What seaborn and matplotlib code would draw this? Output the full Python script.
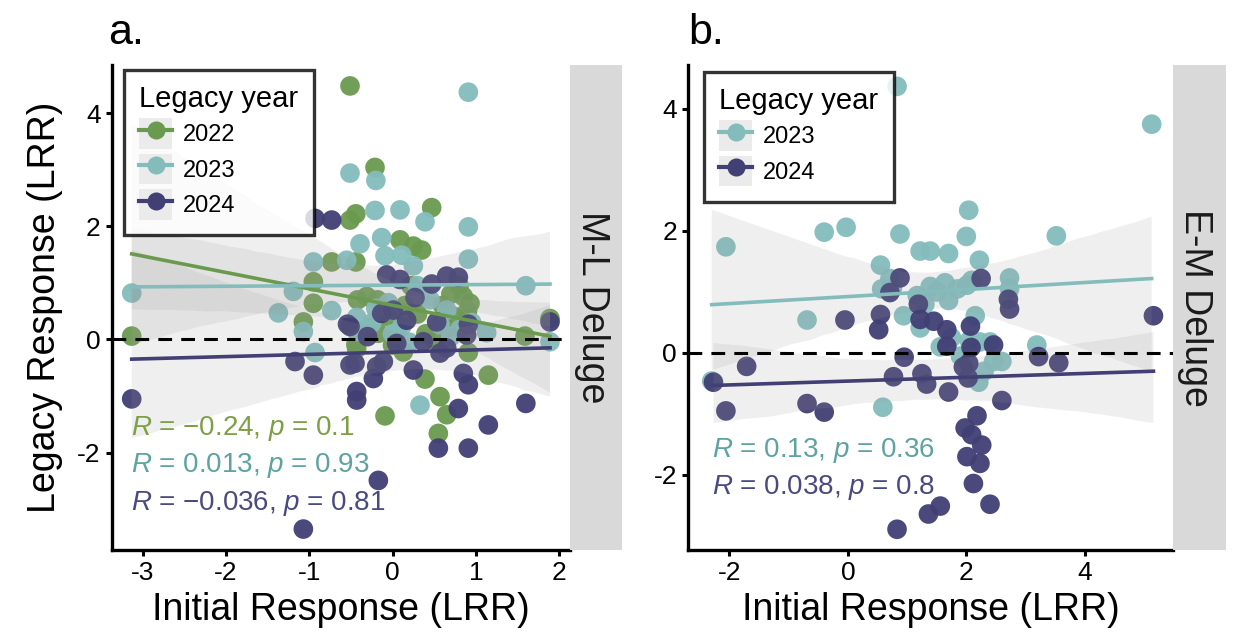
import numpy as np
import pandas as pd
import matplotlib
matplotlib.use("Agg")
import matplotlib.pyplot as plt
import seaborn as sns
from matplotlib.lines import Line2D
from matplotlib.patches import Patch
from matplotlib.legend_handler import HandlerTuple
from matplotlib.collections import PolyCollection

# ---------------- data ----------------
# Panel a (M-L Deluge)
a22_x = [-0.51, -0.21, -0.51, -0.44, 0.47, 0.09, 0.25, 0.35, -0.73, -0.44,
         -0.95, -0.95, -1.07, -3.13, 1.89, 1.59, 1.15, 0.39, 0.57, 0.65,
         -0.09, 0.55, 0.85, 0.93, 0.80, -0.31, -0.42, -0.18, -0.17, 0.13,
         -0.43, -0.30, 0.91, 0.22, 0.51, -0.44, 0.70, 0.05, 0.60, 0.30,
         -0.05, 0.75, 0.40, 0.90, 0.15, 0.00, 0.65]
a22_y = [4.48, 3.04, 2.11, 2.22, 2.33, 1.76, 1.65, 1.58, 1.37, 1.37,
         1.02, 0.64, 0.31, 0.06, 0.37, 0.06, -0.63, -0.70, -1.01, -1.33,
         -1.35, -1.66, 0.76, 0.64, 0.95, 0.76, 0.70, 0.70, 0.11, -0.22,
         -0.16, 0.20, -0.23, 0.95, -0.01, -0.09, 0.80, 0.15, 0.60, 0.45,
         0.40, 0.40, 0.10, 0.50, 0.60, -0.10, 0.20]

a23_x = [0.91, -0.51, -0.20, -0.21, 0.09, 0.39, 0.91, -0.39, -0.13, -0.09,
         0.11, 0.25, 0.91, -0.95, -0.55, 1.60, -3.13, -1.37, -0.73, -1.07,
         -0.93, -0.43, -0.43, -0.25, 0.11, 0.45, 0.65, 0.57, 0.81, 1.13,
         1.89, 0.33, -1.19, 0.30, -0.05, 0.70, 0.20, -0.20, 0.00, 0.95]
a23_y = [4.37, 2.94, 2.81, 2.28, 2.29, 2.08, 1.99, 1.69, 1.80, 1.48,
         1.49, 1.30, 1.42, 1.37, 1.40, 0.95, 0.82, 0.47, 0.51, 0.14,
         -0.23, 0.39, 0.14, 0.29, 0.23, 0.70, 0.52, 0.26, 0.18, 0.12,
         -0.04, -1.16, 0.85, 0.95, 0.65, 0.05, -0.05, 0.55, 0.10, 0.30]

a24_x = [-0.93, -0.73, -0.07, 0.09, 0.65, 0.79, 0.47, -1.17, -0.95, -0.51,
         -0.45, -0.11, -0.19, -0.23, -0.43, -0.43, 0.25, 0.85, 0.91, 0.79,
         1.15, 1.60, 0.55, 0.91, 1.89, -0.13, -0.51, 0.53, 0.89, 0.05,
         0.37, 0.17, 0.01, 0.57, -3.13, -0.17, -1.07, 0.27, 0.91, 0.65,
         -0.30, -0.54]
a24_y = [2.14, 2.11, 1.14, 1.06, 1.12, 1.10, 0.98, -0.39, -0.63, -0.45,
         -0.42, -0.39, -0.48, -0.69, -0.92, -1.07, -0.54, -0.60, -0.80, -1.22,
         -1.51, -1.13, -1.92, -1.92, 0.31, 0.46, 0.23, 0.31, 0.08, -0.07,
         -0.04, 0.34, 0.52, -0.24, -1.05, -2.49, -3.35, 0.74, 0.27, -0.15,
         0.05, 0.27]

# Panel b (E-M Deluge)
b23_x = [0.83, 5.13, -2.06, -0.40, -0.03, 0.88, 2.04, 2.00, 3.52, 1.22,
         1.39, 1.70, 2.22, 0.55, 0.71, 0.57, 1.39, 1.64, 2.01, 2.09,
         1.17, 1.70, -0.69, 0.94, 1.22, 2.15, 0.59, 1.56, 2.23, 2.40,
         2.21, 2.46, 2.60, 3.19, 2.73, 2.73, 1.50, 1.85, 2.05, 1.30,
         0.75, -2.30, 1.90, 2.30, 1.75]
b23_y = [4.37, 3.75, 1.74, 1.98, 2.06, 1.95, 2.34, 1.91, 1.92, 1.67,
         1.67, 1.63, 1.52, 1.44, 1.22, 1.05, 1.09, 1.15, 1.11, 1.19,
         0.94, 0.86, 0.54, 0.61, 0.41, 0.61, -0.89, 0.10, 0.18, 0.18,
         -0.48, -0.14, -0.14, 0.13, 1.23, 1.05, 1.00, 1.05, 0.20, 0.80,
         1.05, -0.46, -0.05, -0.30, 0.25]

b24_x = [-2.27, -1.71, -2.06, -0.69, -0.40, 0.95, 0.77, 1.25, 1.33, 1.70,
         2.18, 1.98, 2.09, 2.26, 2.01, 2.23, 2.12, 2.40, 1.56, 1.36,
         0.83, 1.95, 2.04, 2.60, 2.73, 2.71, 3.22, 3.56, 5.16, 1.67,
         1.67, 2.07, 2.46, 0.55, 0.52, -0.05, 1.22, 1.45, 1.19, 0.88,
         0.71, 2.25, 2.03, 2.08]
b24_y = [-0.48, -0.22, -0.95, -0.83, -0.97, -0.07, -0.39, -0.34, -0.51, -0.64,
         -1.03, -1.23, -1.34, -1.51, -1.70, -1.81, -2.14, -2.48, -2.51, -2.64,
         -2.89, -0.23, -0.17, -0.78, 0.72, 0.88, -0.06, -0.16, 0.61, 0.38,
         0.11, 0.44, 0.13, 0.63, 0.38, 0.54, 0.55, 0.52, 0.80, 1.23,
         0.99, 1.22, -0.41, 0.09]

years_a = ["2022", "2023", "2024"]
years_b = ["2023", "2024"]
stats_a = ["\u2212" + "0.24", "0.013", "\u2212" + "0.036"]
pvals_a = ["0.1", "0.93", "0.81"]
stats_b = ["0.13", "0.038"]
pvals_b = ["0.36", "0.8"]
strip_a = "M-L Deluge"
strip_b = "E-M Deluge"

palette = {"2022": "#6A9A4E", "2023": "#84BCBC", "2024": "#413F74"}
text_cols = {"2022": "#7E9F45", "2023": "#5EA2A2", "2024": "#4B4981"}

def frame(pairs):
    rows = []
    for yr, xs, ys in pairs:
        for x, y in zip(xs, ys):
            rows.append((x, y, yr))
    return pd.DataFrame(rows, columns=["initial", "legacy", "year"])

df_a = frame([("2022", a22_x, a22_y), ("2023", a23_x, a23_y), ("2024", a24_x, a24_y)])
df_b = frame([("2023", b23_x, b23_y), ("2024", b24_x, b24_y)])

# ---------------- style ----------------
plt.rcParams["font.family"] = ["Liberation Sans", "DejaVu Sans"]
plt.rcParams["mathtext.fontset"] = "custom"
plt.rcParams["mathtext.it"] = "Liberation Sans:italic"
plt.rcParams["mathtext.rm"] = "Liberation Sans"
plt.rcParams["axes.unicode_minus"] = False

W, H = 1233, 638
fig = plt.figure(figsize=(W / 100, H / 100), dpi=100)

def fx(px):
    return px / W

def fy(py):
    return 1 - py / H

top_px, bot_px = 65, 550
axA = fig.add_axes([fx(111.7), fy(bot_px), fx(570 - 111.7), (bot_px - top_px) / H])
axB = fig.add_axes([fx(688), fy(bot_px), fx(1173 - 688), (bot_px - top_px) / H])

def draw_panel(ax, df, years, xlim, ylim, xticks, yticks):
    sns.scatterplot(data=df, x="initial", y="legacy", hue="year", hue_order=years,
                    palette=palette, s=200, edgecolor="none", alpha=0.95,
                    legend=False, ax=ax, zorder=2)
    for yr in years:
        sub = df[df["year"] == yr]
        sns.regplot(data=sub, x="initial", y="legacy", scatter=False, ci=95,
                    n_boot=1000, seed=3, color=palette[yr], truncate=True,
                    line_kws=dict(lw=2.6, zorder=4), ax=ax)
    for coll in ax.collections:
        if isinstance(coll, PolyCollection):
            coll.set_facecolor((0.6, 0.6, 0.6, 0.2))
            coll.set_edgecolor("none")
            coll.set_zorder(3)
    ax.axhline(0, color="black", lw=2.2, ls=(0, (4.5, 3)), zorder=5)
    ax.set_xlim(*xlim)
    ax.set_ylim(*ylim)
    ax.set_xticks(xticks)
    ax.set_yticks(yticks)
    for side in ["top", "right"]:
        ax.spines[side].set_visible(False)
    for side in ["left", "bottom"]:
        ax.spines[side].set_linewidth(2.4)
        ax.spines[side].set_color("black")
    ax.tick_params(axis="both", labelsize=19, width=2.2, length=4, pad=4,
                   color="black", labelcolor="black")
    ax.set_xlabel("Initial Response (LRR)", fontsize=27, labelpad=5)
    ax.set_ylabel("")

draw_panel(axA, df_a, years_a, (-3.37, 2.13), (-3.72, 4.85), [-3, -2, -1, 0, 1, 2], [-2, 0, 2, 4])
draw_panel(axB, df_b, years_b, (-2.70, 5.49), (-3.23, 4.72), [-2, 0, 2, 4], [-2, 0, 2, 4])
axA.set_ylabel("Legacy Response (LRR)", fontsize=27, labelpad=10)

# legends
def add_legend(ax, years, anchor):
    handles = [(Patch(facecolor="#EBEBEB", edgecolor="none"),
                Line2D([], [], color=palette[y], lw=3, marker="o", markersize=13,
                       markeredgewidth=0)) for y in years]
    leg = ax.legend(handles, years, title="Legacy year", loc="upper left",
                    bbox_to_anchor=anchor, borderaxespad=0, fontsize=17,
                    title_fontsize=21, frameon=True, fancybox=False,
                    edgecolor="black", handlelength=1.4, handleheight=1.6,
                    labelspacing=0.22, handletextpad=0.45, borderpad=0.65,
                    alignment="left",
                    handler_map={tuple: HandlerTuple(ndivide=1, pad=0)})
    leg.get_frame().set_linewidth(2.4)
    leg.set_zorder(10)
    return leg

add_legend(axA, years_a, (0.027, 0.99))
add_legend(axB, years_b, (0.033, 0.986))

# correlation annotations
for i, yr in enumerate(years_a):
    fig.text(fx(131), fy(435 + 37.5 * i),
             r"$\mathit{R}$ = " + stats_a[i] + r", $\mathit{p}$ = " + pvals_a[i],
             fontsize=20, color=text_cols[yr], va="baseline", ha="left")
for i, yr in enumerate(years_b):
    fig.text(fx(712), fy(457 + 37.5 * i),
             r"$\mathit{R}$ = " + stats_b[i] + r", $\mathit{p}$ = " + pvals_b[i],
             fontsize=20, color=text_cols[yr], va="baseline", ha="left")

# facet strips
for left, right, label in [(570, 622, strip_a), (1173, 1226, strip_b)]:
    sax = fig.add_axes([fx(left), fy(bot_px), fx(right - left), (bot_px - top_px) / H])
    sax.set_facecolor("#D9D9D9")
    sax.set_xticks([])
    sax.set_yticks([])
    for s in sax.spines.values():
        s.set_visible(False)
    sax.text(0.42, 0.5, label, rotation=-90, ha="center", va="center",
             fontsize=27, color="#1A1A1A", transform=sax.transAxes)

# panel tags
fig.text(fx(108), fy(44), "a.", fontsize=31, va="baseline", ha="left")
fig.text(fx(688), fy(44), "b.", fontsize=31, va="baseline", ha="left")

fig.savefig("out.png", dpi=100)
